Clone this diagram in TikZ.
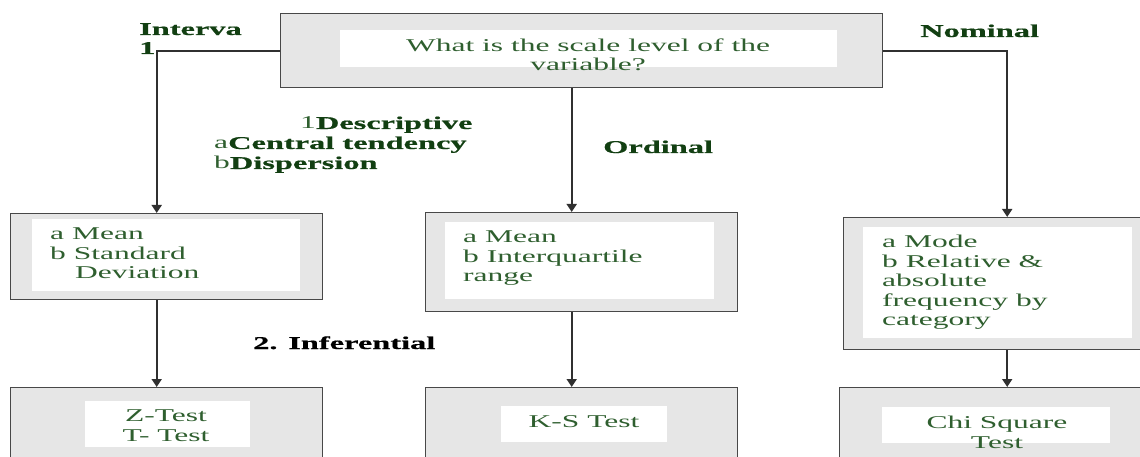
\documentclass[tikz,border=0pt]{standalone}
\usepackage{fontspec}
\usetikzlibrary{arrows.meta}
\newfontfamily\bodyfont{Liberation Serif}[FakeStretch=1.75]
\newfontfamily\labelfont{Liberation Serif}[FakeStretch=1.8, FakeBold=0.6]
\definecolor{boxfill}{HTML}{E6E6E6}
\definecolor{boxline}{HTML}{484848}
\definecolor{wirecol}{HTML}{303030}
\definecolor{txtgreen}{HTML}{2F5F2F}
\definecolor{lblgreen}{HTML}{123F12}
\tikzset{
  outerbox/.style={draw=boxline, line width=1.4pt, fill=boxfill, inner sep=0pt, anchor=north west},
  innerbox/.style={fill=white, inner sep=0pt, anchor=north west},
  wire/.style={draw=wirecol, line width=1.8pt, -{Triangle[width=10pt,length=8pt]}},
  body/.style={text=txtgreen, font=\bodyfont\fontsize{18}{19.5}\selectfont, inner sep=0pt},
  lbl/.style={text=lblgreen, font=\labelfont\bfseries\fontsize{18}{20}\selectfont, inner sep=0pt, anchor=base west}
}
\newcommand{\prefix}[1]{{\bodyfont\mdseries\color{txtgreen}#1}}
\begin{document}
\begin{tikzpicture}[x=1pt,y=-1pt]
\useasboundingbox (0,0) rectangle (1140,457);
\clip (0,0) rectangle (1140,457);
\fill[white] (0,0) rectangle (1140,457);

% question box
\node[outerbox, minimum width=602pt, minimum height=74pt] (top) at (280,13) {};
\node[innerbox, minimum width=497pt, minimum height=37pt] (topin) at (340,30) {};
\node[body, align=center, anchor=north] (qtext) at (588,38.5) {What is the scale level of the\\variable?};

% descriptive statistics boxes
\node[outerbox, minimum width=312pt, minimum height=86pt] (intv) at (10,213) {};
\node[innerbox, minimum width=268pt, minimum height=72pt] (intvin) at (32,219) {};
\node[body, align=left, anchor=north west] (intvtext) at (50,228) {a Mean\\b Standard\\\hspace*{25pt}Deviation};

\node[outerbox, minimum width=312pt, minimum height=99pt] (ord) at (425,212) {};
\node[innerbox, minimum width=269pt, minimum height=77pt] (ordin) at (445,222) {};
\node[body, align=left, anchor=north west] (ordtext) at (463,231) {a Mean\\b Interquartile\\range};

\node[outerbox, minimum width=311pt, minimum height=132pt] (nom) at (843,217) {};
\node[innerbox, minimum width=269pt, minimum height=111pt] (nomin) at (863,227) {};
\node[body, align=left, anchor=north west] (nomtext) at (882,235) {a Mode\\b Relative \&\\absolute\\frequency by\\category};

% inferential test boxes
\node[outerbox, minimum width=312pt, minimum height=90pt] (ztest) at (10,387) {};
\node[innerbox, minimum width=165pt, minimum height=46pt] (ztestin) at (85,401) {};
\node[body, align=center, anchor=north] (ztesttext) at (166,410) {Z-Test\\T- Test};

\node[outerbox, minimum width=312pt, minimum height=90pt] (ks) at (425,387) {};
\node[innerbox, minimum width=166pt, minimum height=36pt] (ksin) at (501,406) {};
\node[body, align=center, anchor=north] (kstext) at (584,415) {K-S Test};

\node[outerbox, minimum width=319pt, minimum height=90pt] (chi) at (839,387) {};
\node[innerbox, minimum width=228pt, minimum height=36pt] (chiin) at (882,407) {};
\node[body, align=center, anchor=north] (chitext) at (997,416) {Chi Square\\Test};

% branch labels
\node[lbl] (lintv) at (139,35) {Interva};
\node[lbl] (lone) at (139,54) {1};
\node[lbl] (lnom) at (920,37) {Nominal};
\node[lbl] (lord) at (603,153) {Ordinal};
\node[lbl] (ldesc) at (300,129) {\prefix{1}Descriptive};
\node[lbl] (lcent) at (214,149) {\prefix{a}Central tendency};
\node[lbl] (ldisp) at (214,169) {\prefix{b}Dispersion};
\node[lbl, text=black] (linf) at (253,349) {2. Inferential};

% connectors
\draw[wire] (top.west) -| ([xshift=-10pt]intv.north);
\draw[wire] ([xshift=-10pt]top.south) -- ([xshift=-10pt]ord.north);
\draw[wire] (top.east) -| ([xshift=8pt]nom.north);
\draw[wire] ([xshift=-10pt]intv.south) -- ([xshift=-10pt]ztest.north);
\draw[wire] ([xshift=-10pt]ord.south) -- ([xshift=-10pt]ks.north);
\draw[wire] ([xshift=8pt]nom.south) -- ([xshift=8pt]chi.north);
\end{tikzpicture}
\end{document}
